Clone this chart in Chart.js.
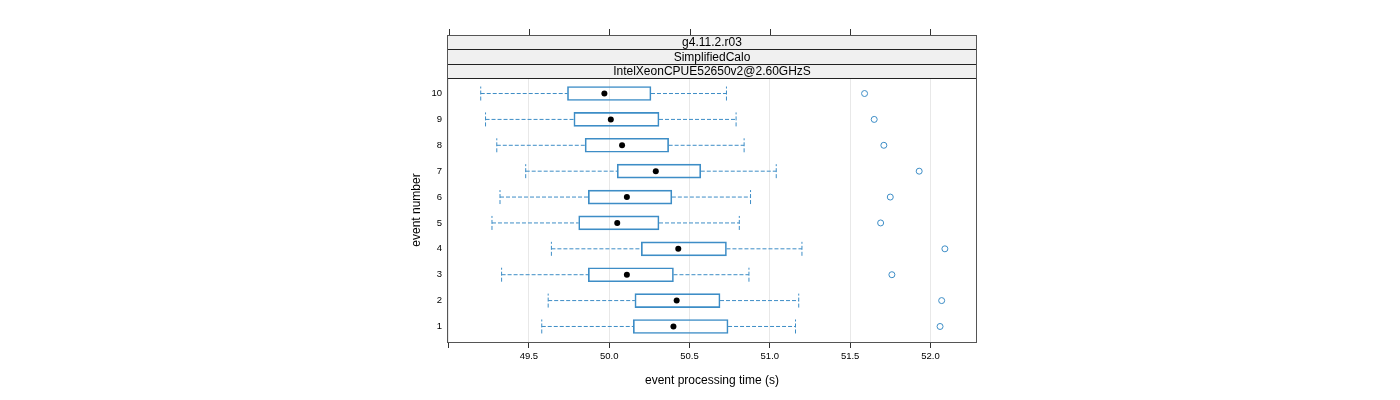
<!DOCTYPE html>
<html>
<head>
<meta charset="utf-8">
<script src="https://cdn.jsdelivr.net/npm/chart.js@4.4.1/dist/chart.umd.min.js"></script>
<style>
html,body{margin:0;padding:0;background:#fff;}
#wrap{width:1400px;height:400px;position:relative;}
</style>
</head>
<body>
<div id="wrap"><canvas id="c" width="1400" height="400"></canvas></div>
<script>
// ---- data ----
const eventNumbers = [1, 2, 3, 4, 5, 6, 7, 8, 9, 10];
const whiskerLow  = [49.58, 49.62, 49.33, 49.64, 49.27, 49.32, 49.48, 49.30, 49.23, 49.20];
const q1          = [50.15, 50.16, 49.87, 50.20, 49.81, 49.87, 50.05, 49.85, 49.78, 49.74];
const median      = [50.40, 50.42, 50.11, 50.43, 50.05, 50.11, 50.29, 50.08, 50.01, 49.97];
const q3          = [50.74, 50.69, 50.40, 50.73, 50.31, 50.39, 50.57, 50.37, 50.31, 50.26];
const whiskerHigh = [51.16, 51.18, 50.87, 51.20, 50.81, 50.88, 51.04, 50.84, 50.79, 50.73];
const outliers    = [52.06, 52.07, 51.76, 52.09, 51.69, 51.75, 51.93, 51.71, 51.65, 51.59];

const xTicks      = [49.0, 49.5, 50.0, 50.5, 51.0, 51.5, 52.0];
const xTickLabels = ['', '49.5', '50.0', '50.5', '51.0', '51.5', '52.0'];
const stripLabels = ['g4.11.2.r03', 'SimplifiedCalo', 'IntelXeonCPUE52650v2@2.60GHzS'];
const xTitle = 'event processing time (s)';
const yTitle = 'event number';

// ---- styling ----
const BLUE = '#3d8dc6';
const FONT = '"Liberation Sans", Arial, Helvetica, sans-serif';
const CAP = 0.27;
Chart.defaults.font.family = FONT;
Chart.defaults.color = '#000';

// ---- build library data from arrays ----
const boxData = eventNumbers.map((n, i) => ({ y: n, x: [q1[i], q3[i]] }));
const whiskerData = [];
const GAP = { x: null, y: null };
eventNumbers.forEach((n, i) => {
  whiskerData.push({ x: whiskerLow[i], y: n }, { x: q1[i], y: n }, GAP);
  whiskerData.push({ x: q3[i], y: n }, { x: whiskerHigh[i], y: n }, GAP);
  whiskerData.push({ x: whiskerLow[i], y: n - CAP }, { x: whiskerLow[i], y: n + CAP }, GAP);
  whiskerData.push({ x: whiskerHigh[i], y: n - CAP }, { x: whiskerHigh[i], y: n + CAP }, GAP);
});
const medianData = eventNumbers.map((n, i) => ({ x: median[i], y: n }));
const outlierData = eventNumbers.map((n, i) => ({ x: outliers[i], y: n }));

const panelPlugin = {
  id: 'panel',
  afterDraw(chart) {
    const { ctx, chartArea: a, scales: { x } } = chart;
    const bounds = [35, 49, 64, a.top];
    ctx.save();
    // strips
    for (let k = 0; k < 3; k++) {
      const y0 = bounds[k], y1 = bounds[k + 1];
      ctx.fillStyle = '#f0f0f0';
      ctx.fillRect(a.left, y0, a.right - a.left, y1 - y0);
      ctx.fillStyle = '#000';
      ctx.font = '12px ' + FONT;
      ctx.textAlign = 'center';
      ctx.textBaseline = 'middle';
      ctx.fillText(stripLabels[k], (a.left + a.right) / 2, (y0 + y1) / 2 + 1);
    }
    ctx.lineWidth = 1;
    ctx.strokeStyle = '#222';
    for (let k = 1; k < 4; k++) {
      ctx.beginPath();
      ctx.moveTo(a.left, bounds[k] + 0.5);
      ctx.lineTo(a.right, bounds[k] + 0.5);
      ctx.stroke();
    }
    // top ticks
    ctx.strokeStyle = '#333';
    xTicks.forEach(v => {
      const px = Math.round(x.getPixelForValue(v)) + 0.5;
      ctx.beginPath();
      ctx.moveTo(px, bounds[0] - 6);
      ctx.lineTo(px, bounds[0]);
      ctx.stroke();
    });
    // outer border (strips + panel)
    ctx.strokeStyle = '#555';
    ctx.strokeRect(a.left + 0.5, bounds[0] + 0.5, a.right - a.left - 1, a.bottom - bounds[0]);
    ctx.restore();
  }
};

new Chart(document.getElementById('c'), {
  type: 'scatter',
  data: {
    datasets: [
      {
        type: 'scatter', label: 'median', data: medianData,
        pointRadius: 3, pointHoverRadius: 3, backgroundColor: '#000', borderWidth: 0
      },
      {
        type: 'scatter', label: 'outliers', data: outlierData,
        pointRadius: 3, pointHoverRadius: 3, backgroundColor: 'rgba(0,0,0,0)',
        borderColor: BLUE, borderWidth: 1
      },
      {
        type: 'line', label: 'whiskers', data: whiskerData,
        borderColor: BLUE, borderWidth: 1, borderDash: [4, 2], pointRadius: 0,
        pointHoverRadius: 0, fill: false, tension: 0, spanGaps: false
      },
      {
        type: 'bar', label: 'box', data: boxData, indexAxis: 'y',
        backgroundColor: 'rgba(0,0,0,0)', borderColor: BLUE, borderWidth: 1,
        borderSkipped: false, barThickness: 14
      }
    ]
  },
  options: {
    responsive: false,
    animation: false,
    events: [],
    layout: { padding: { top: 78, right: 423, bottom: 0, left: 400 } },
    plugins: { legend: { display: false }, tooltip: { enabled: false } },
    scales: {
      x: {
        type: 'linear', position: 'bottom', min: 48.99, max: 52.29, offset: false,
        afterBuildTicks: s => { s.ticks = xTicks.map(v => ({ value: v })); },
        afterFit: s => { s.height = 58; },
        ticks: {
          callback: (v, i) => xTickLabels[i], font: { size: 9.5 }, color: '#000',
          padding: 3, maxRotation: 0, autoSkip: false
        },
        grid: { color: '#e8e8e8', tickColor: '#333', tickLength: 6, drawTicks: true, offset: false },
        border: { display: false },
        title: { display: true, text: xTitle, font: { size: 12 }, color: '#000', padding: { top: 0, bottom: 12 } }
      },
      y: {
        type: 'linear', position: 'left', min: 0.4, max: 10.6, offset: false,
        afterBuildTicks: s => { s.ticks = eventNumbers.map(v => ({ value: v })); },
        afterFit: s => { s.width = 47; },
        ticks: { callback: v => String(v), font: { size: 9.5 }, color: '#000', padding: 5, autoSkip: false },
        grid: { display: false, drawTicks: false, offset: false },
        border: { display: false },
        title: { display: true, text: yTitle, font: { size: 12 }, color: '#000', padding: { top: 9, bottom: 0 } }
      }
    }
  },
  plugins: [panelPlugin]
});
</script>
</body>
</html>
